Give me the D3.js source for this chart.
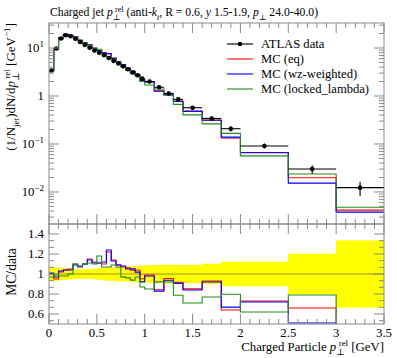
<!DOCTYPE html>
<html><head><meta charset="utf-8">
<script src="https://cdn.jsdelivr.net/npm/d3@7"></script>
<style>
body{margin:0;background:#fff}
svg{display:block}
text{font-family:"Liberation Serif","DejaVu Serif",serif;fill:#000}
</style>
</head><body>
<svg id="c" width="397" height="358"></svg>
<script>
// ---------------- data ----------------
const binEdges = [0,0.05,0.1,0.15,0.2,0.25,0.3,0.35,0.4,0.45,0.5,0.55,0.6,0.65,0.7,0.75,0.8,0.85,0.9,0.95,1.0,
                  1.1,1.2,1.3,1.4,1.6,1.8,2.0,2.5,3.0,3.5];
const dataVals = [3.4,9.8,15.8,18.5,17.6,15.6,13.4,11.6,10.1,8.9,8.0,7.1,6.2,5.4,4.75,4.15,3.6,3.1,2.7,2.3,
                  2.0,1.52,1.13,0.85,0.57,0.34,0.208,0.091,0.030,0.0123];
const dataErr  = [0.238,0.637,0.948,1.018,0.88,0.78,0.603,0.522,0.455,0.445,0.44,0.426,0.403,0.351,0.333,0.291,0.27,0.233,0.216,0.184,
                  0.17,0.137,0.102,0.0765,0.0513,0.034,0.025,0.0109,0.006,0.0041];
const mcEq     = [3.40,9.31,16.12,19.24,18.48,17.16,14.47,12.76,11.62,9.97,8.88,7.81,7.56,6.16,5.18,4.44,3.82,3.22,2.81,2.19,
                  1.98,1.28,1.08,0.78,0.485,0.316,0.133,0.0664,0.0198,0.00418];
const mcWz     = [3.43,9.51,16.27,19.24,18.30,17.00,14.34,12.76,11.51,9.88,8.88,7.95,7.69,6.10,5.18,4.48,3.78,3.26,2.75,2.12,
                  1.96,1.26,1.06,0.77,0.479,0.313,0.139,0.0655,0.0153,0.00381];
const mcLocked = [3.30,9.70,15.48,18.13,17.60,17.16,14.47,12.76,11.21,9.79,9.44,7.60,6.63,5.89,5.08,4.03,3.46,2.91,2.62,2.00,
                  1.70,1.40,1.04,0.67,0.405,0.262,0.166,0.0564,0.0237,0.0048];
const xTickVals = [0,0.5,1,1.5,2,2.5,3,3.5];
const xTickLabels = ["0","0.5","1","1.5","2","2.5","3","3.5"];
const ratioTickVals = [0.6,0.8,1,1.2,1.4];
const ratioTickLabels = ["0.6","0.8","1","1.2","1.4"];
const logTickVals = [0.01,0.1,1,10];
const logTickExps = ["−2","−1",null,"1"];
const legendLabels = ["ATLAS data","MC (eq)","MC (wz-weighted)","MC (locked_lambda)"];
const mcSeries = [
  {name:"MC (eq)", vals: mcEq, color:"#ff0000"},
  {name:"MC (wz-weighted)", vals: mcWz, color:"#0000ff"},
  {name:"MC (locked_lambda)", vals: mcLocked, color:"#1f8f1f"}
];

// ---------------- layout ----------------
const L = 49, R = 384, mainTop = 23, mainBot = 224, ratioBot = 324;
const axisColor = "#8a8a8a";
const svg = d3.select("#c");

const x = d3.scaleLinear().domain([0,3.5]).range([L,R]);
const y = d3.scaleLog().domain([0.00215, 33.2]).range([mainBot, mainTop]);
const yr = d3.scaleLinear().domain([0.5,1.5]).range([ratioBot, mainBot]);

function rich(sel, parts, base) {
  let cur = 0;
  parts.forEach(p => {
    const shift = p.s === "sub" ? base*0.3 : p.s === "sup" ? -base*0.38 : 0;
    const ts = sel.append("tspan").text(p.t).attr("dy", shift - cur);
    if (p.s) ts.attr("font-size", base*0.7);
    if (p.it) ts.attr("font-style","italic");
    if (p.dx) ts.attr("dx", p.dx);
    cur = shift;
  });
}

const nb = dataVals.length;
function stepPts(vals, f) {
  const pts = [];
  for (let i = 0; i < nb; i++) {
    const v = f ? f(vals[i], i) : vals[i];
    pts.push([binEdges[i], v], [binEdges[i+1], v]);
  }
  return pts;
}

// clip paths
const defs = svg.append("defs");
defs.append("clipPath").attr("id","cm").append("rect").attr("x",L).attr("y",mainTop).attr("width",R-L).attr("height",mainBot-mainTop);
defs.append("clipPath").attr("id","cr").append("rect").attr("x",L).attr("y",mainBot).attr("width",R-L).attr("height",ratioBot-mainBot);

// ---------------- ratio panel ----------------
const gR = svg.append("g").attr("clip-path","url(#cr)");
for (let i = 0; i < nb; i++) {
  const rel = dataErr[i]/dataVals[i];
  gR.append("rect")
    .attr("x", x(binEdges[i])).attr("width", x(binEdges[i+1]) - x(binEdges[i]))
    .attr("y", yr(1+rel)).attr("height", yr(1-rel) - yr(1+rel))
    .attr("fill","#ffff00").attr("stroke","#ffff00").attr("stroke-width",0.5);
}
gR.append("line").attr("x1",x(0)).attr("x2",x(3.5)).attr("y1",yr(1)).attr("y2",yr(1))
  .attr("stroke","#9c9400").attr("stroke-width",1);
const lineR = d3.line().x(d => x(d[0])).y(d => yr(d[1]));
mcSeries.forEach(s => {
  gR.append("path").attr("d", lineR(stepPts(s.vals, (v,i) => v/dataVals[i])))
    .attr("fill","none").attr("stroke", s.color).attr("stroke-width",1.1);
});

// ---------------- main panel ----------------
const gM = svg.append("g").attr("clip-path","url(#cm)");
const lineM = d3.line().x(d => x(d[0])).y(d => y(d[1]));
mcSeries.forEach(s => {
  gM.append("path").attr("d", lineM(stepPts(s.vals)))
    .attr("fill","none").attr("stroke", s.color).attr("stroke-width",1.1);
});
for (let i = 0; i < nb; i++) {
  const cx = x((binEdges[i]+binEdges[i+1])/2), cy = y(dataVals[i]);
  gM.append("line").attr("x1",x(binEdges[i])).attr("x2",x(binEdges[i+1])).attr("y1",cy).attr("y2",cy)
    .attr("stroke","#000").attr("stroke-width",1.1);
  gM.append("line").attr("x1",cx).attr("x2",cx).attr("y1",y(dataVals[i]+dataErr[i])).attr("y2",y(dataVals[i]-dataErr[i]))
    .attr("stroke","#000").attr("stroke-width",1.1);
  gM.append("circle").attr("cx",cx).attr("cy",cy).attr("r",2.3).attr("fill","#000");
}

// ---------------- frames & ticks ----------------
const fr = svg.append("g").attr("stroke",axisColor).attr("stroke-width",1).attr("fill","none");
fr.append("rect").attr("x",L).attr("y",mainTop).attr("width",R-L).attr("height",mainBot-mainTop);
fr.append("rect").attr("x",L).attr("y",mainBot).attr("width",R-L).attr("height",ratioBot-mainBot);

function xTicksAt(yy, dir) {
  for (let k = 0; k <= 35; k++) {
    const v = k/10, major = k % 5 === 0, len = major ? 10 : 5;
    fr.append("line").attr("x1",x(v)).attr("x2",x(v)).attr("y1",yy).attr("y2",yy+dir*len);
  }
}
xTicksAt(mainTop, 1); xTicksAt(mainBot, -1); xTicksAt(mainBot, 1); xTicksAt(ratioBot, -1);

// log y ticks
for (let e = -3; e <= 1; e++) {
  for (let m = 1; m <= 9; m++) {
    const v = m * Math.pow(10, e);
    if (v < y.domain()[0] || v > y.domain()[1]) continue;
    const len = m === 1 ? 10 : 5, yy = y(v);
    fr.append("line").attr("x1",L).attr("x2",L+len).attr("y1",yy).attr("y2",yy);
    fr.append("line").attr("x1",R).attr("x2",R-len).attr("y1",yy).attr("y2",yy);
  }
}
// ratio y ticks (minor every 0.2/3)
for (let k = 0; k <= 15; k++) {
  const v = 0.4 + k*0.2/3;
  if (v < 0.5 - 1e-9 || v > 1.5 + 1e-9) continue;
  const major = k % 3 === 0, len = major ? 10 : 5, yy = yr(v);
  fr.append("line").attr("x1",L).attr("x2",L+len).attr("y1",yy).attr("y2",yy);
  fr.append("line").attr("x1",R).attr("x2",R-len).attr("y1",yy).attr("y2",yy);
}

// ---------------- labels ----------------
const fs = 12.8;
xTickVals.forEach((v,i) => {
  svg.append("text").attr("x", x(v)).attr("y", 337).attr("text-anchor","middle").attr("font-size",fs).text(xTickLabels[i]);
});
ratioTickVals.forEach((v,i) => {
  svg.append("text").attr("x", 44).attr("y", yr(v)+4).attr("text-anchor","end").attr("font-size",fs).text(ratioTickLabels[i]);
});
logTickVals.forEach((v,i) => {
  const t = svg.append("text").attr("x", 44).attr("y", y(v)+4).attr("text-anchor","end").attr("font-size",fs);
  if (logTickExps[i] === null) t.text("1");
  else rich(t, [{t:"10"},{t:logTickExps[i], s:"sup"}], fs);
});

// title
const title = svg.append("text").attr("x",50).attr("y",16).attr("font-size",11.7);
rich(title, [
  {t:"Charged jet "},{t:"p",it:true},{t:"⊥",s:"sub"},{t:"rel",s:"sup",dx:-5.5},
  {t:" (anti-"},{t:"k",it:true},{t:"t",s:"sub",it:true},{t:", R = 0.6, "},{t:"y",it:true},
  {t:" 1.5-1.9, "},{t:"p",it:true},{t:"⊥",s:"sub"},{t:" 24.0-40.0)"}
], 11.7);

// x title
const xt = svg.append("text").attr("x",384).attr("y",351).attr("text-anchor","end").attr("font-size",fs);
rich(xt, [{t:"Charged Particle "},{t:"p",it:true},{t:"⊥",s:"sub"},{t:"rel",s:"sup",dx:-6},{t:" [GeV]"}], fs);

// y titles
const ytSize = 13;
const yt = svg.append("text").attr("transform","translate(15,23) rotate(-90)").attr("text-anchor","end").attr("font-size",ytSize);
rich(yt, [{t:"(1/N"},{t:"jet",s:"sub"},{t:")dN/d"},{t:"p",it:true},{t:"⊥",s:"sub"},{t:"rel",s:"sup",dx:-6.3},
  {t:" [GeV"},{t:"−1",s:"sup"},{t:"]"}], ytSize);
svg.append("text").attr("transform","translate(16,272) rotate(-90)").attr("text-anchor","middle").attr("font-size",13.6).text("MC/data");

// legend
const legY = [44, 59, 74, 89];
const legColors = ["#000"].concat(mcSeries.map(s => s.color));
legendLabels.forEach((lab,i) => {
  svg.append("line").attr("x1",227).attr("x2",253).attr("y1",legY[i]).attr("y2",legY[i])
    .attr("stroke",legColors[i]).attr("stroke-width",1.1);
  if (i === 0) svg.append("circle").attr("cx",240).attr("cy",legY[i]).attr("r",2.3).attr("fill","#000");
  svg.append("text").attr("x",261).attr("y",legY[i]+4).attr("font-size",12.6).text(lab);
});
</script>
</body></html>
